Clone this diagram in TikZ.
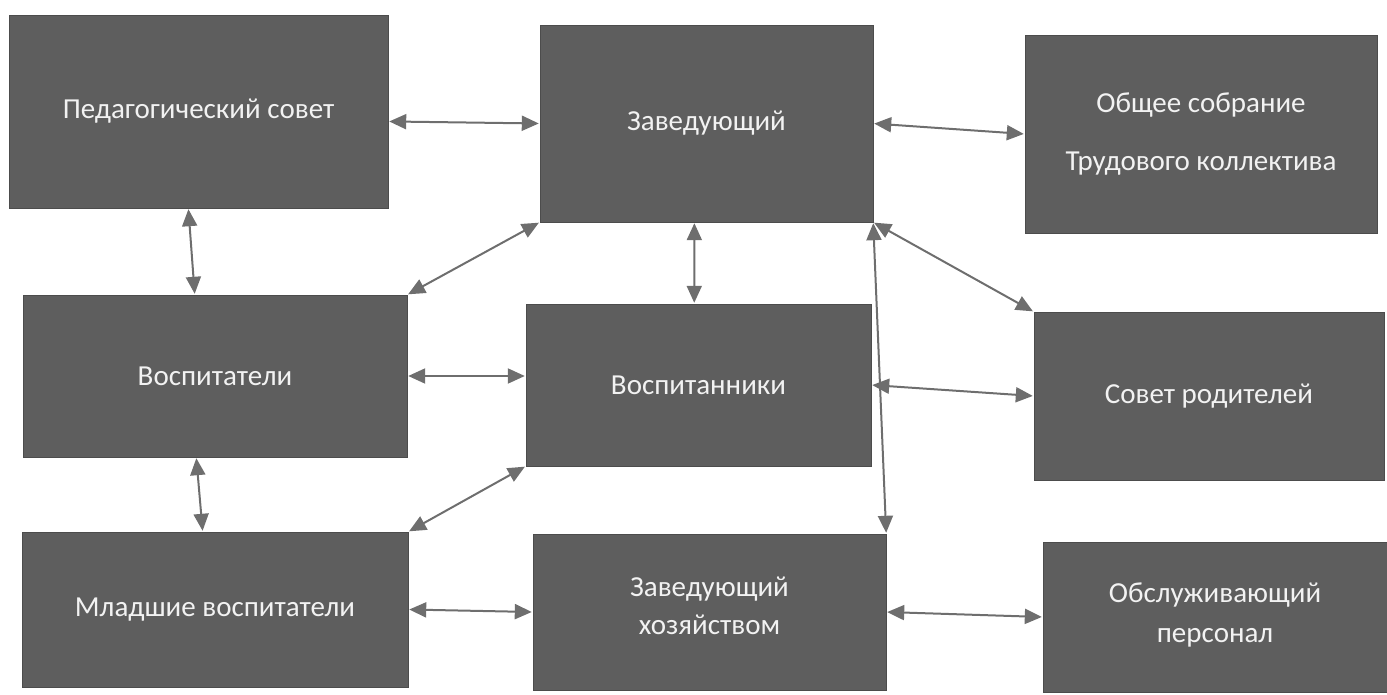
\documentclass[tikz,border=0pt]{standalone}
\usepackage{fontspec}
\setmainfont{Carlito}
\usetikzlibrary{arrows.meta}
\definecolor{boxgray}{RGB}{94,94,94}
\definecolor{arrowgray}{RGB}{110,110,110}
\definecolor{boxtext}{RGB}{242,242,242}

\begin{document}
\begin{tikzpicture}[x=1pt,y=-1pt,
        blok/.style={draw=black!70,fill=boxgray,text=boxtext,align=center,inner sep=0pt,
            font=\fontsize{29}{36}\selectfont},
        svyaz/.style={{Triangle[length=17pt,width=15pt]}-{Triangle[length=17pt,width=15pt]},
            draw=arrowgray,line width=2pt,shorten <=1pt,shorten >=1pt}]
            \useasboundingbox (0,0) rectangle (1387,695);
            \node[blok,minimum width=379pt,minimum height=193pt] (P) at(198.5,111.5){Педагогический совет};
            \node[blok,minimum width=333pt,minimum height=197pt] (Z) at(706.5,123.5){Заведующий};
            \node[blok,minimum width=352pt,minimum height=198pt] (O) at(1201,134){Общее собрание\\[22pt]Трудового коллектива};
            \node[blok,minimum width=384pt,minimum height=162pt] (V) at(215,376){Воспитатели};
            \node[blok,minimum width=345pt,minimum height=162pt] (VN) at(698.5,385){Воспитанники};
            \node[blok,minimum width=350pt,minimum height=168pt] (SR) at(1209,396){Совет родителей};
            \node[blok,minimum width=386pt,minimum height=155pt] (MV) at(215,609.5){Младшие воспитатели};
            \node[blok,minimum width=353pt,minimum height=156pt,text depth=12pt] (ZH) at(709.5,612){Заведующий\\[2pt]хозяйством};
            \node[blok,minimum width=344pt,minimum height=150pt,text depth=8pt] (OP) at(1215,617){Обслуживающий\\[4pt]персонал};
            \draw[svyaz] (P.-3) -- (Z.west);
            \draw[svyaz] (Z.east) -- (O.west);
            \draw[svyaz] (P.-96) -- (V.104);
            \draw[svyaz] (Z.south west) -- (V.north east);
            \draw[svyaz] (Z.-97) -- (VN.93);
            \draw[svyaz] (Z.south east) -- (SR.north west);
            \draw[svyaz] (Z.south east) -- (ZH.north east);
            \draw[svyaz] (V.east) -- (V.east -| VN.west);
            \draw[svyaz] (VN.east) -- (SR.west);
            \draw[svyaz] (V.-103) -- (MV.99);
            \draw[svyaz] (VN.south west) -- (MV.north east);
            \draw[svyaz] (MV.east) -- (ZH.west);
            \draw[svyaz] (ZH.east) -- (OP.west);
\end{tikzpicture}
\end{document}
